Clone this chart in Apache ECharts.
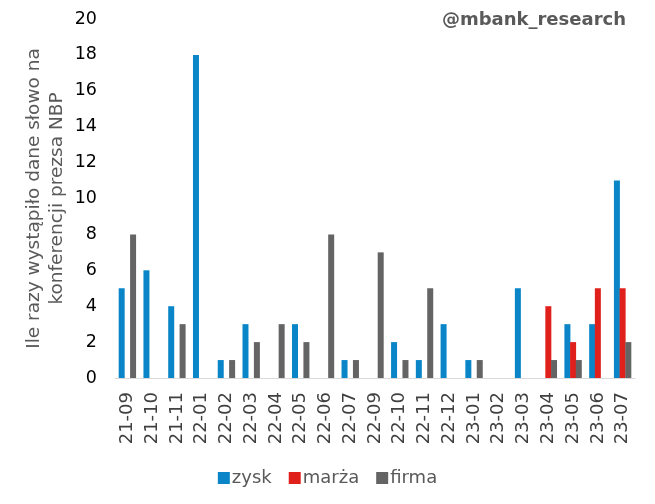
<!DOCTYPE html>
<html><head><meta charset="utf-8">
<script src="https://cdn.jsdelivr.net/npm/echarts@6/dist/echarts.min.js"></script>
<style>html,body{margin:0;padding:0;background:#fff}#c{width:655px;height:504px}</style>
</head><body><div id="c"></div>
<script>
const categories = ['21-09','21-10','21-11','22-01','22-02','22-03','22-04','22-05','22-06','22-07','22-09','22-10','22-11','22-12','23-01','23-02','23-03','23-04','23-05','23-06','23-07'];
const zysk  = [5,6,4,18,1,3,0,3,0,1,0,2,1,3,1,0,5,0,3,3,11];
const marza = [0,0,0,0,0,0,0,0,0,0,0,0,0,0,0,0,0,4,2,5,5];
const firma = [8,0,3,0,1,2,3,2,8,1,7,1,5,0,1,0,0,1,1,0,2];
const yTicks = {min:0, max:20, interval:2};

const font = 'DejaVu Sans, Verdana, sans-serif';
const chart = echarts.init(document.getElementById('c'));
const mk = (name, data, color) => ({
  name, type:'bar', data, barWidth:6, barGap:'-5%',
  itemStyle:{color}, emphasis:{disabled:true}
});
chart.setOption({
  animation:false,
  title:{text:'@mbank_research', right:24, top:6,
    textStyle:{fontFamily:font, fontSize:18, fontWeight:'bold', color:'#595959'}},
  grid:{left:115, right:20, top:19, bottom:126, outerBoundsMode:'none', containLabel:false},
  legend:{left:'center', top:464, itemWidth:12, itemHeight:12, itemGap:17,
    icon:'rect',
    textStyle:{fontFamily:font, fontSize:18, color:'#595959', padding:[0,0,0,-3]},
    data:['zysk','marża','firma']},
  xAxis:{type:'category', data:categories,
    axisLine:{lineStyle:{color:'#d9d9d9', width:1}},
    axisTick:{show:false},
    axisLabel:{rotate:90, interval:0, margin:14, fontFamily:font, fontSize:18, color:'#404040'}},
  yAxis:{type:'value', min:yTicks.min, max:yTicks.max, interval:yTicks.interval,
    name:'Ile razy wystąpiło dane słowo na\nkonferencji prezsa NBP',
    nameLocation:'middle', nameGap:46, nameRotate:90, nameMoveOverlap:false,
    nameTextStyle:{fontFamily:font, fontSize:18.5, color:'#595959', lineHeight:23},
    splitLine:{show:false}, axisLine:{show:false}, axisTick:{show:false},
    axisLabel:{margin:18, fontFamily:font, fontSize:17.5, color:'#000'}},
  series:[mk('zysk',zysk,'#0a86c8'), mk('marża',marza,'#e0201b'), mk('firma',firma,'#646464')]
});
</script></body></html>
